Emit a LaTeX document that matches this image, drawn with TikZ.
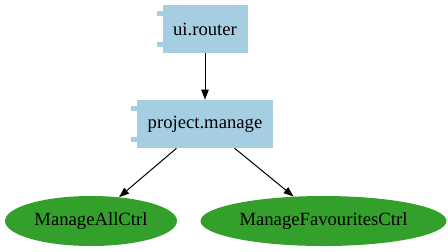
\documentclass[tikz,border=0pt]{standalone}
\usepackage{fontspec}
\setmainfont{Liberation Serif}
\usetikzlibrary{arrows.meta,shapes.geometric}

\definecolor{modblue}{HTML}{A6CEE3}
\definecolor{ctrlgreen}{HTML}{33A02C}

\tikzset{
  module/.style={rectangle,fill=modblue,minimum height=36pt,inner sep=0pt,font=\rmfamily\fontsize{14pt}{16pt}\selectfont},
  ctrl/.style={ellipse,fill=ctrlgreen,minimum height=37.5pt,inner sep=0pt,font=\rmfamily\fontsize{14pt}{16pt}\selectfont},
  dep/.style={-{Triangle[length=7.5pt,width=5.5pt]},line width=0.75pt}
}

\begin{document}
\begin{tikzpicture}[x=0.75pt,y=-0.75pt]

\useasboundingbox (0,0) rectangle (448,251);

% modules
\node[module,minimum width=63.75pt] (router) at (205,29) {ui.router};
\node[module,minimum width=102pt] (manage) at (205,124) {project.manage};

% little tabs on the left side of each module
\foreach \m in {router,manage} {
  \fill[modblue] ([xshift=-4pt,yshift=-4.5pt]\m.north west) rectangle ++(4.5pt,-4.2pt);
  \fill[modblue] ([xshift=-4pt,yshift=4.5pt]\m.south west) rectangle ++(4.5pt,4.2pt);
}

% controllers
\node[ctrl,minimum width=129pt] (all) at (91,221) {ManageAllCtrl};
\node[ctrl,minimum width=184.5pt] (fav) at (323.5,221) {ManageFavouritesCtrl};

\draw[dep] (router) -- (manage);
\draw[dep] (manage) -- (all);
\draw[dep] (manage) -- (fav);

\end{tikzpicture}
\end{document}
